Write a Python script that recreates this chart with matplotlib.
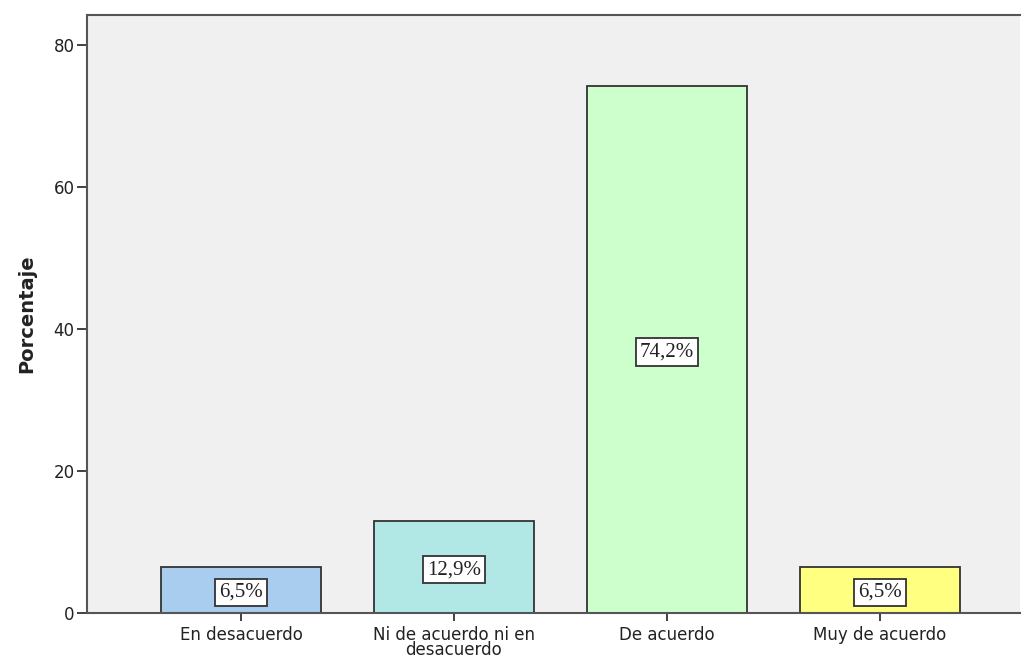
import matplotlib
matplotlib.use('Agg')
import matplotlib.pyplot as plt

categorias = ['En desacuerdo', 'Ni de acuerdo ni en\ndesacuerdo', 'De acuerdo', 'Muy de acuerdo']
porcentajes = [6.5, 12.9, 74.2, 6.5]
etiquetas = ['6,5%', '12,9%', '74,2%', '6,5%']
colores = ['#a9cdef', '#b1e8e6', '#ccffcc', '#ffff80']
yticks = [0, 20, 40, 60, 80]

fig = plt.figure(figsize=(10.25, 6.6), dpi=100)
ax = fig.add_axes([0.0849, 0.0712, 0.910, 0.906])
ax.set_facecolor('#f0f0f0')

x = list(range(len(categorias)))
ax.bar(x, porcentajes, width=0.75, color=colores, edgecolor='#333333', linewidth=1.3, zorder=2)

# etiquetas de valor centradas dentro de cada barra
for xi, v, txt in zip(x, porcentajes, etiquetas):
    ax.text(xi, v / 2, txt, ha='center', va='center_baseline', fontsize=15,
            family=['Liberation Serif', 'DejaVu Serif'], color='#222222', zorder=3,
            bbox=dict(boxstyle='square,pad=0.2', facecolor='white', edgecolor='#333333', linewidth=1.3))

ax.set_xlim(-0.723, 3.657)
ax.set_ylim(0, 84.2)
ax.set_xticks(x)
ax.set_xticklabels(categorias, fontsize=12, color='#222222', linespacing=0.85)
ax.set_yticks(yticks)
ax.set_yticklabels([str(t) for t in yticks], fontsize=12, color='#222222')
ax.tick_params(axis='y', length=7, width=1.3, color='#333333', pad=2)
ax.tick_params(axis='x', length=6, width=1.3, color='#333333', pad=3)
ax.set_ylabel('Porcentaje', fontsize=14, fontweight='bold', color='#222222', labelpad=12)

for side in ['left', 'bottom', 'top']:
    ax.spines[side].set_color('#555555')
    ax.spines[side].set_linewidth(1.5)
ax.spines['right'].set_visible(False)

fig.savefig('out.png', dpi=100)
